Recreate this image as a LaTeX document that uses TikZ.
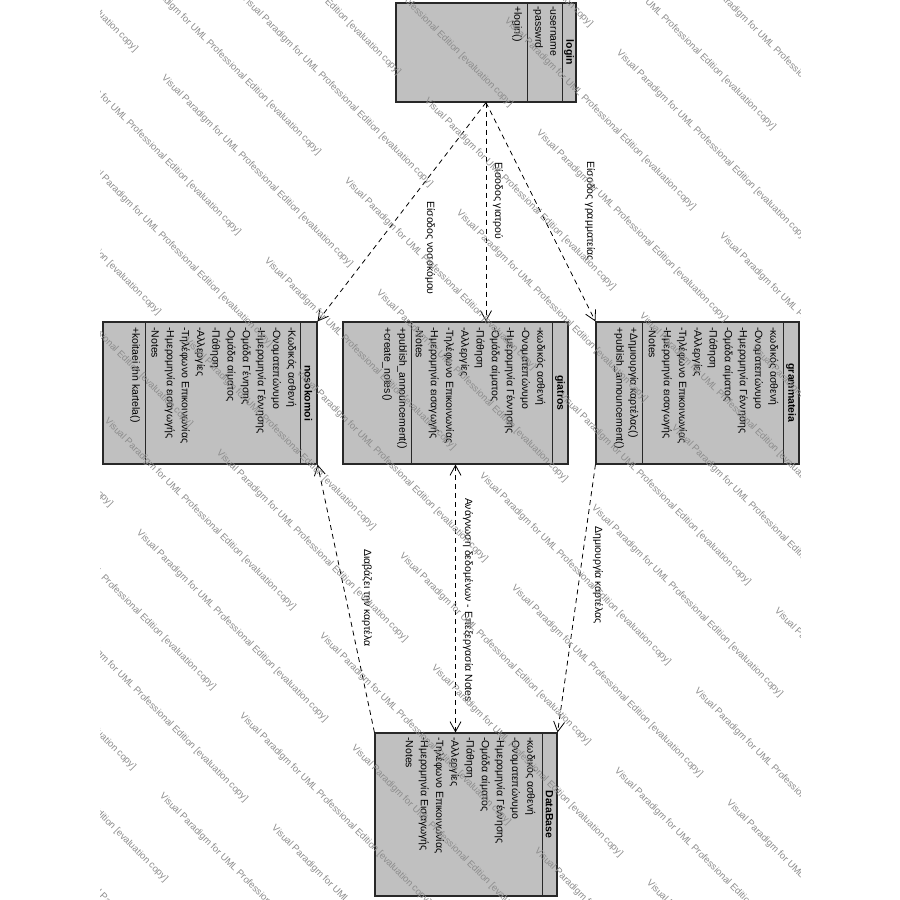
\documentclass[tikz,border=0pt]{standalone}
\usepackage{fontspec}
\setmainfont{Liberation Sans}
\usetikzlibrary{arrows.meta,calc}
\definecolor{boxgray}{RGB}{192,192,192}
\definecolor{edgegray}{RGB}{40,40,40}
\tikzset{
  classbox/.style={draw=edgegray, line width=1.1pt, fill=boxgray, rectangle, inner sep=0pt},
  sepline/.style={draw=edgegray, line width=1.1pt},
  attr/.style={rotate=-90, anchor=mid west, inner sep=0pt, font=\fontsize{10.5}{12}\selectfont},
  ttl/.style={rotate=-90, inner sep=0pt, font=\fontsize{10.5}{12}\selectfont\bfseries},
  lbl/.style={rotate=-90, inner sep=0pt, font=\fontsize{10.5}{12}\selectfont},
  conn/.style={line width=0.8pt, dash pattern=on 5pt off 4pt},
  tipend/.style={-{Straight Barb[length=10pt,width=11pt,line width=0.8pt]}},
  tipboth/.style={{Straight Barb[length=10pt,width=11pt,line width=0.8pt]}-{Straight Barb[length=10pt,width=11pt,line width=0.8pt]}},
  wm/.style={rotate=-45, anchor=west, inner sep=0pt, text=black!45, font=\fontsize{9.5}{11}\selectfont}
}
\newcommand\classlines[4]{%
  \foreach \t [count=\i] in {#4} {
    \node[attr] (#1\i) at ({#2-15.2*(\i-1)}, #3) {\t};
  }%
}
\begin{document}
\begin{tikzpicture}[x=1pt,y=-1pt]
\useasboundingbox (0,0) rectangle (900,900);
\fill[white] (0,0) rectangle (900,900);

% ---------- class boxes ----------
\node[classbox, minimum width=180pt, minimum height=99pt] (login) at (486,52.5) {};
\draw[sepline] ($(login.north east)+(-14,0)$) -- ($(login.south east)+(-14,0)$);
\draw[sepline] ($(login.north east)+(-49,0)$) -- ($(login.south east)+(-49,0)$);
\node[ttl] (loginT) at (569,52.5) {login};
\node[attr] (login1) at (553,6) {-username};
\node[attr] (login2) at (538,6) {-passwrd};
\node[attr] (login3) at (517,6) {+login()};

\node[classbox, minimum width=214pt, minimum height=142pt] (nos) at (210,393) {};
\draw[sepline] ($(nos.north east)+(-17,0)$) -- ($(nos.south east)+(-17,0)$);
\draw[sepline] ($(nos.north west)+(43,0)$) -- ($(nos.south west)+(43,0)$);
\node[ttl] (nosT) at (308.5,393) {nosokomoi};
\classlines{nosA}{291}{327}{-Κωδικός ασθενή,-Ονοματεπώνυμο,-Ημερομηνία Γέννησης,-Ομάδα Γένησης,-Ομάδα αίματος,-Πάθηση,-Αλλεργίες,-Τηλέφωνο Επικοινωνίας,-Ημερομηνία εισαγωγής,-Notes}
\node[attr] (nosO1) at (135,327) {+koitaei thn kartela()};

\node[classbox, minimum width=225pt, minimum height=142pt] (gia) at (455.5,393) {};
\draw[sepline] ($(gia.north east)+(-16,0)$) -- ($(gia.south east)+(-16,0)$);
\draw[sepline] ($(gia.north west)+(69,0)$) -- ($(gia.south west)+(69,0)$);
\node[ttl] (giaT) at (560,393) {giatros};
\classlines{giaA}{540}{327}{-κωδικός ασθενή,-Ονοματεπώνυμο,-Ημερομηνία Γέννησης,-Ομάδα αίματος,-Πάθηση,-Αλλεργίες,-Τηλέφωνο Επικοινωνίας,-Ημερομηνία εισαγωγής,-Notes}
\node[attr] (giaO1) at (402,327) {+publish\_announcement()};
\node[attr] (giaO2) at (387,327) {+create\_notes()};

\node[classbox, minimum width=203pt, minimum height=142pt] (gram) at (697.5,393) {};
\draw[sepline] ($(gram.north east)+(-16,0)$) -- ($(gram.south east)+(-16,0)$);
\draw[sepline] ($(gram.north west)+(47,0)$) -- ($(gram.south west)+(47,0)$);
\node[ttl] (gramT) at (791,393) {grammateia};
\classlines{gramA}{773}{327}{-κωδικός ασθενή,-Ονοματεπώνυμο,-Ημερομηνία Γέννησης,-Ομάδα αίματος,-Πάθηση,-Αλλεργίες,-Τηλέφωνο Επικοινωνίας,-Ημερομηνία εισαγωγής,-Notes}
\node[attr] (gramO1) at (633,327) {+Δημιουργία καρτέλας()};
\node[attr] (gramO2) at (619,327) {+publish\_announcement()};

\node[classbox, minimum width=182pt, minimum height=163pt] (db) at (466,814.5) {};
\draw[sepline] ($(db.north east)+(-15,0)$) -- ($(db.south east)+(-15,0)$);
\node[ttl] (dbT) at (549.5,814.5) {DataBase};
\classlines{dbA}{530}{737}{-κωδικός ασθενή,-Ονοματεπώνυμο,-Ημερομηνία Γέννησης,-Ομάδα αίματος,-Πάθηση,-Αλλεργίες,-Τηλέφωνο Επικοινωνίας,-Ημερομηνία Εισαγωγής,-Notes}

% ---------- connectors ----------
\draw[conn, tipend] (login.south) -- (nos.north east);
\draw[conn, tipend] (login.south) -- (login.south |- gia.north);
\draw[conn, tipend] (login.south) -- (gram.north west);
\draw[conn, tipend] (db.north west) -- (nos.south east);
\draw[conn, tipboth] (gia.south) -- (gia.south |- db.north);
\draw[conn, tipend] (gram.south west) -- (db.north east);

% ---------- labels ----------
\node[lbl] (l1) at (430,248) {Είσοδος νοσοκόμου};
\node[lbl] (l2) at (498,201) {Είσοδος γιατρού};
\node[lbl] (l3) at (590,211) {Είσοδος γραμματείας};
\node[lbl] (l4) at (367,598) {Διαβάζει την καρτέλα};
\node[lbl] (l5) at (468,600) {Ανάγνωση δεδομένων - Επεξεργασία Notes};
\node[lbl] (l6) at (598,575) {Δημιουργία καρτέλας};

% ---------- watermark ----------
\begin{scope}
\clip (100,0) rectangle (800,900);
\foreach \k in {-11,...,9} {
  \foreach \m in {-2,...,4} {
    \pgfmathsetmacro\dd{86+80*\k}
    \pgfmathsetmacro\ss{ifthenelse(mod(abs(\k),2)==1,96,240)+430*\m}
    \pgfmathsetmacro\px{(\dd+\ss)/2}
    \pgfmathsetmacro\py{(\ss-\dd)/2}
    \node[wm] (wm\k x\m) at (\px,\py) {Visual Paradigm for UML Professional Edition [evaluation copy]};
  }
}
\end{scope}
\end{tikzpicture}
\end{document}
